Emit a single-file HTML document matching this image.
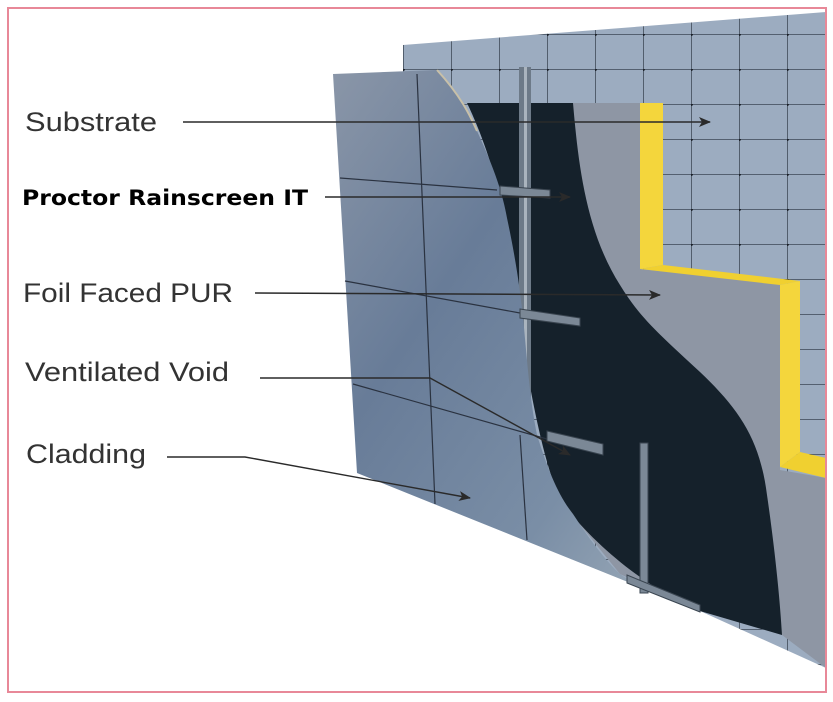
<!DOCTYPE html>
<html><head><meta charset="utf-8"><style>body{margin:0;background:#fff}svg{display:block}</style></head>
<body>
<svg width="833" height="702" viewBox="0 0 833 702" xmlns="http://www.w3.org/2000/svg">
<defs>
<pattern id="grid" x="403" y="34" width="48" height="35" patternUnits="userSpaceOnUse">
<rect width="48" height="35" fill="#9cacc0"/>
<path d="M0 0H48M0 0V35" stroke="#2a3340" stroke-width="1.3"/>
<circle cx="0" cy="0" r="2" fill="#1a2028"/>
</pattern>
<linearGradient id="clad" x1="0" y1="0" x2="1" y2="1">
<stop offset="0" stop-color="#8a96a8"/><stop offset="0.35" stop-color="#687c98"/>
<stop offset="0.7" stop-color="#7a8ea6"/><stop offset="1" stop-color="#a2b0bc"/>
</linearGradient>
<marker id="ar" markerWidth="12" markerHeight="10" refX="11" refY="5" orient="auto" markerUnits="userSpaceOnUse">
<path d="M0 0L12 5L0 10L3 5Z" fill="#2a2a2a"/></marker>
</defs>
<rect x="0" y="0" width="833" height="702" fill="#fff"/>
<!-- substrate -->
<polygon points="403,45 826,12 826,668 700,611 403,491" fill="url(#grid)"/>
<!-- insulation grey -->
<polygon points="560,103 640,103 640,269 780,283 780,470 826,478 826,668 782,635 700,611 620,574 560,500" fill="#8e96a4"/>
<!-- yellow -->
<polygon points="640,103 663,103 663,265 640,269" fill="#f4d63c"/>
<polygon points="640,269 663,265 800,281 780,285" fill="#f0d030"/>
<polygon points="780,285 800,281 800,452 780,467" fill="#f4d63c"/>
<polygon points="780,467 800,452 826,458 826,478" fill="#f0d030"/>
<!-- dark void -->
<path d="M467,103 L573,103 C578,160 585,230 620,285 C640,318 660,335 700,372 C740,410 760,440 767,495 C775,550 780,600 782,635 L700,611 C640,585 590,540 560,500 C535,440 520,330 510,250 C500,180 480,130 467,103 Z" fill="#15212b"/>
<!-- upper rail -->
<rect x="519" y="67" width="12" height="380" fill="#6d7a88"/>
<rect x="524" y="67" width="3" height="380" fill="#aab4be"/>
<!-- cladding -->
<path d="M333,74 L437,70 C460,95 470,115 477,131 C495,170 503,195 507,218 C516,260 520,290 523,317 C528,370 530,400 537,435 C548,470 558,495 573,514 C590,540 605,560 620,574 C650,595 680,605 700,611 L357,473 Z" fill="url(#clad)"/>
<path d="M437,70 C460,95 470,115 477,131" stroke="#c8c0a8" stroke-width="2" fill="none"/>
<g stroke="#2a3240" stroke-width="1.2" fill="none">
<path d="M417,74 L435,504"/><path d="M520,435 L527,540"/>
<path d="M340,178 L497,190"/><path d="M345,281 L520,313"/><path d="M353,384 L547,439"/>
</g>
<!-- brackets -->
<g fill="#7b8896" stroke="#3a4550" stroke-width="1">
<polygon points="500,186 550,190 550,198 500,195"/>
<polygon points="520,309 580,318 580,326 520,318"/>
<polygon points="547,431 603,444 603,455 547,441"/>
<rect x="640" y="443" width="8" height="150"/>
<polygon points="627,575 700,605 700,612 627,583"/>
</g>
<!-- label lines -->
<g stroke="#2a2a2a" stroke-width="1.4" fill="none">
<path d="M183,122 L710,122" marker-end="url(#ar)"/>
<path d="M325,197 L570,197" marker-end="url(#ar)"/>
<path d="M255,293 L660,295" marker-end="url(#ar)"/>
<path d="M260,378 L430,378 L570,455" marker-end="url(#ar)"/>
<path d="M167,457 L245,457 L470,498" marker-end="url(#ar)"/>
</g>
<g font-family="Liberation Sans, sans-serif" font-size="27" fill="#333">
<text x="25" y="131" textLength="132" lengthAdjust="spacingAndGlyphs">Substrate</text>
<text x="23" y="302" textLength="210" lengthAdjust="spacingAndGlyphs">Foil Faced PUR</text>
<text x="25" y="381" textLength="204" lengthAdjust="spacingAndGlyphs">Ventilated Void</text>
<text x="26" y="463" textLength="120" lengthAdjust="spacingAndGlyphs">Cladding</text>
</g>
<text x="22" y="205" font-family="DejaVu Sans, sans-serif" font-weight="bold" font-size="21" fill="#000" textLength="286" lengthAdjust="spacingAndGlyphs">Proctor Rainscreen IT</text>
<!-- border -->
<rect x="8" y="8" width="818" height="684" fill="none" stroke="#e88898" stroke-width="2"/>
</svg>
</body></html>
